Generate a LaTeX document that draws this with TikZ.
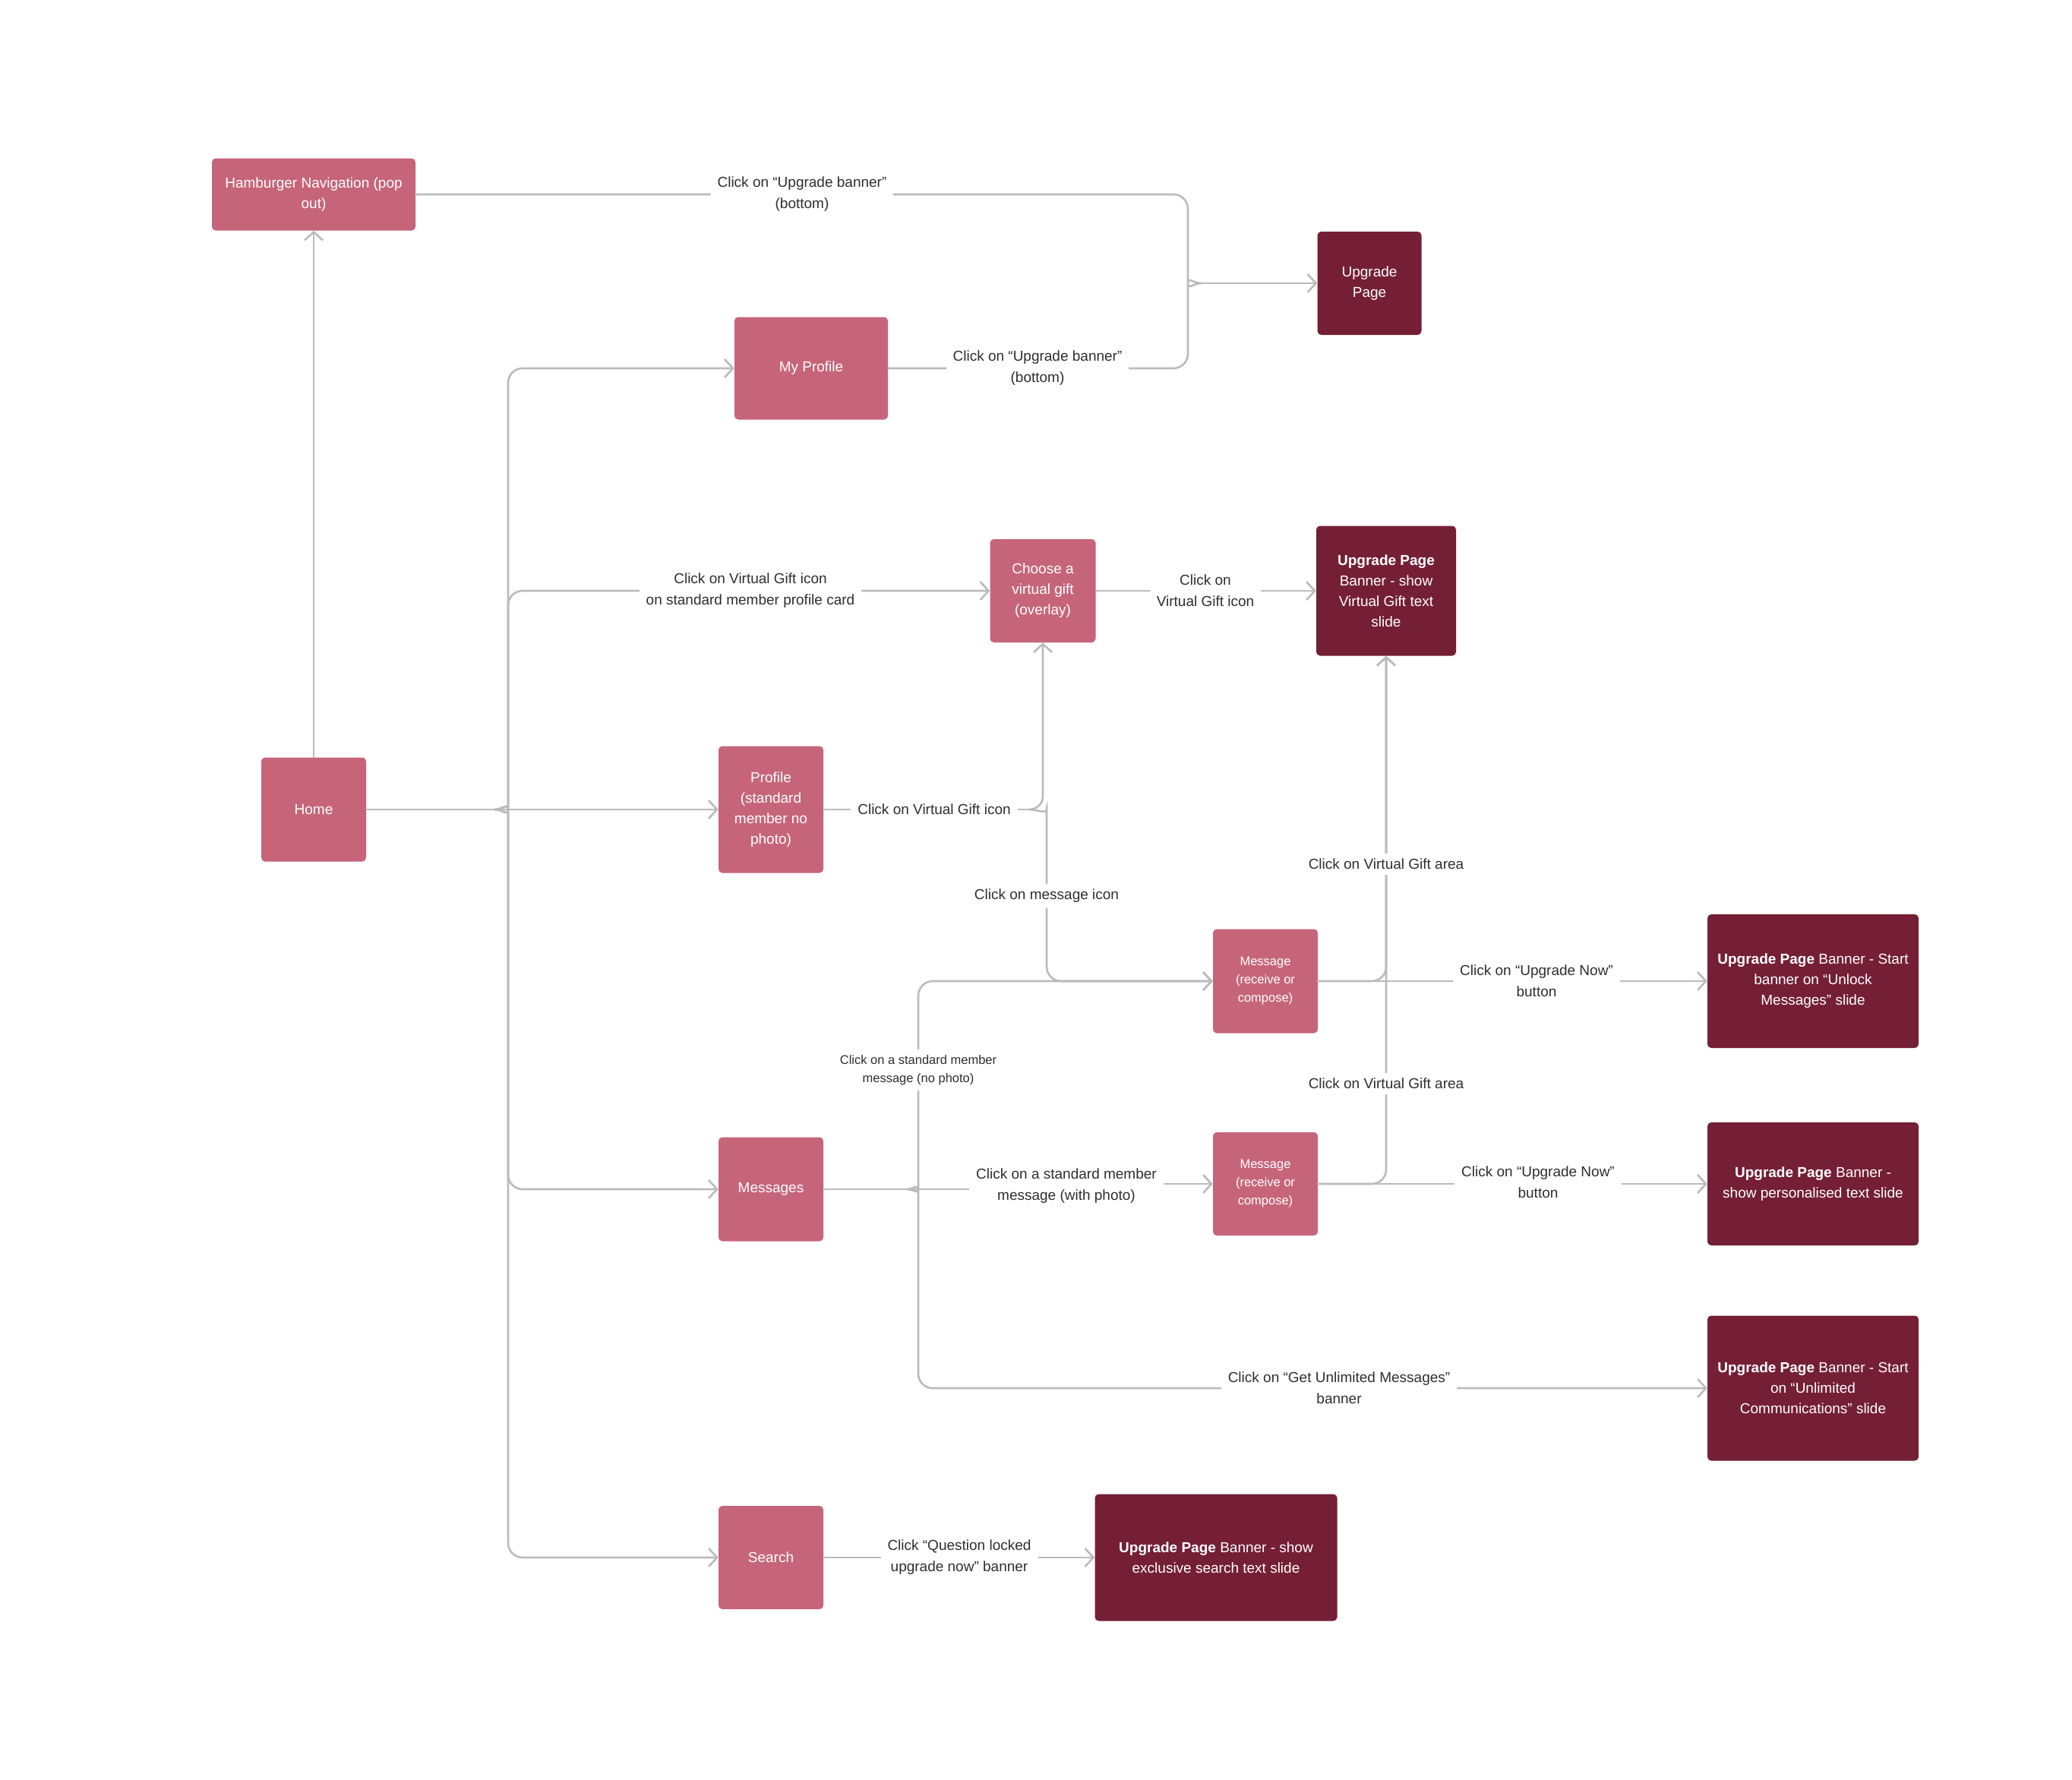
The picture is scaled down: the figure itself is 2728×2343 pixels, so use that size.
\documentclass[tikz,border=0pt]{standalone}
\usepackage{fontspec}
\setmainfont{Liberation Sans}
\usetikzlibrary{arrows.meta}
\definecolor{pinkbox}{HTML}{C6657A}
\definecolor{darkbox}{HTML}{741F35}
\definecolor{linegray}{HTML}{BBBBBB}
\definecolor{txt}{HTML}{2E2E2E}
\begin{document}
\begin{tikzpicture}[x=1pt,y=-1pt,
  box/.style={fill=pinkbox, rounded corners=5pt, text=white, align=center, inner sep=0pt, font=\fontsize{19}{27}\selectfont},
  dbox/.style={box, fill=darkbox},
  sbox/.style={box, font=\fontsize{16.5}{24}\selectfont},
  conn/.style={draw=linegray, line width=2.6pt, line cap=round},
  arr/.style={conn, -{Straight Barb[length=11pt,width=24pt]}},
  rc/.style={rounded corners=19pt},
  lbl/.style={fill=white, text=txt, align=center, inner xsep=9pt, inner ysep=7pt, font=\fontsize{19}{28}\selectfont},
  slbl/.style={lbl, font=\fontsize{16.5}{24}\selectfont}
]
\useasboundingbox[fill=white] (0,0) rectangle (2728,2343);

% nodes
\node[box, minimum width=268pt, minimum height=95pt] (ham) at (413,256) {Hamburger Navigation (pop\\out)};
\node[dbox, minimum width=137pt, minimum height=136pt] (upg) at (1803,373) {Upgrade\\Page};
\node[box, minimum width=202pt, minimum height=135pt] (myp) at (1068,485) {My Profile};
\node[box, minimum width=139pt, minimum height=136pt] (cho) at (1373,778) {Choose a\\virtual gift\\(overlay)};
\node[dbox, minimum width=184pt, minimum height=171pt] (vg) at (1825,778) {\textbf{Upgrade Page}\\Banner - show\\Virtual Gift text\\slide};
\node[box, minimum width=138pt, minimum height=137pt] (home) at (413,1066) {Home};
\node[box, minimum width=138pt, minimum height=167pt] (prof) at (1015,1066) {Profile\\(standard\\member no\\photo)};
\node[sbox, minimum width=138pt, minimum height=137pt] (msg1) at (1666,1292) {Message\\(receive or\\compose)};
\node[dbox, minimum width=278pt, minimum height=176pt] (unlk) at (2387,1292) {\textbf{Upgrade Page} Banner - Start\\banner on “Unlock\\Messages” slide};
\node[box, minimum width=138pt, minimum height=137pt] (msgs) at (1015,1566) {Messages};
\node[sbox, minimum width=138pt, minimum height=136pt] (msg2) at (1666,1559) {Message\\(receive or\\compose)};
\node[dbox, minimum width=278pt, minimum height=162pt] (pers) at (2387,1559) {\textbf{Upgrade Page} Banner -\\show personalised text slide};
\node[dbox, minimum width=278pt, minimum height=191pt] (unl) at (2387,1828) {\textbf{Upgrade Page} Banner - Start\\on “Unlimited\\Communications” slide};
\node[box, minimum width=138pt, minimum height=136pt] (srch) at (1015,2051) {Search};
\node[dbox, minimum width=319pt, minimum height=167pt] (sbx) at (1601,2051) {\textbf{Upgrade Page} Banner - show\\exclusive search text slide};

% Home -> Hamburger
\draw[arr] (home.north) -- (ham.south);

% Home trunk
\coordinate (tipA) at (651,1066);
\draw[conn] (home.east) -- (tipA);
\draw[arr] (tipA) -- (prof.west);
\draw[arr, rc] (tipA) to[out=0,in=-90] (669,1047) |- (myp.west);
\draw[arr, rc] (tipA) to[out=0,in=-90] (669,1047) |- (cho.west);
\draw[arr, rc] (tipA) to[out=0,in=90] (669,1085) |- (msgs.west);
\draw[arr, rc] (tipA) to[out=0,in=90] (669,1085) |- (srch.west);
\node[lbl] at (988,778) {Click on Virtual Gift icon\\on standard member profile card};

% to Upgrade Page
\coordinate (tipD) at (1581,373);
\draw[conn, rc] (ham.east) -- (1564,256) -- (1564,354) to[out=-90,in=180] (tipD);
\draw[conn, rc] (myp.east) -- (1564,485) -- (1564,392) to[out=90,in=180] (tipD);
\draw[arr] (tipD) -- (upg.west);
\node[lbl] at (1056,256) {Click on “Upgrade banner”\\(bottom)};
\node[lbl] at (1366,485) {Click on “Upgrade banner”\\(bottom)};

% Choose -> VG
\draw[arr] (cho.east) -- (vg.west);
\node[lbl] at (1587,778) {Click on\\Virtual Gift icon};

% Profile brace
\coordinate (tipB) at (1355,1066);
\draw[conn] (prof.east) -- (tipB);
\draw[arr] (tipB) to[out=0,in=-90] (1373,1049) -- (cho.south);
\draw[arr, rc] (tipB) to[out=0,in=90] (1378,1084) |- (msg1.west);
\node[lbl] at (1230,1066) {Click on Virtual Gift icon};
\node[lbl] at (1378,1180) {Click on message icon};

% Messages brace
\coordinate (tipC) at (1194,1566);
\draw[conn] (msgs.east) -- (tipC);
\draw[arr, rc] (tipC) to[out=0,in=-90] (1209,1549) |- (msg1.west);
\draw[arr, rc] (tipC) to[out=0,in=90] (1209,1583) |- (unl.west);
\draw[arr] (tipC) -- (1404,1566) -- (1404,1559) -- (msg2.west);
\node[slbl] at (1209,1409) {Click on a standard member\\message (no photo)};
\node[lbl] at (1404,1562) {Click on a standard member\\message (with photo)};
\node[lbl] at (1763,1828) {Click on “Get Unlimited Messages”\\banner};

% Messages -> upgrades
\draw[arr] (msg1.east) -- (unlk.west);
\draw[arr, rc] (msg1.east) -| (vg.south);
\draw[arr, rc] (msg2.east) -| (vg.south);
\draw[arr] (msg2.east) -- (pers.west);
\node[lbl] at (2023,1292) {Click on “Upgrade Now”\\button};
\node[lbl] at (2025,1557) {Click on “Upgrade Now”\\button};
\node[lbl] at (1825,1138) {Click on Virtual Gift area};
\node[lbl] at (1825,1427) {Click on Virtual Gift area};

% Search
\draw[arr] (srch.east) -- (sbx.west);
\node[lbl] at (1263,2051) {Click “Question locked\\upgrade now” banner};
\end{tikzpicture}
\end{document}
